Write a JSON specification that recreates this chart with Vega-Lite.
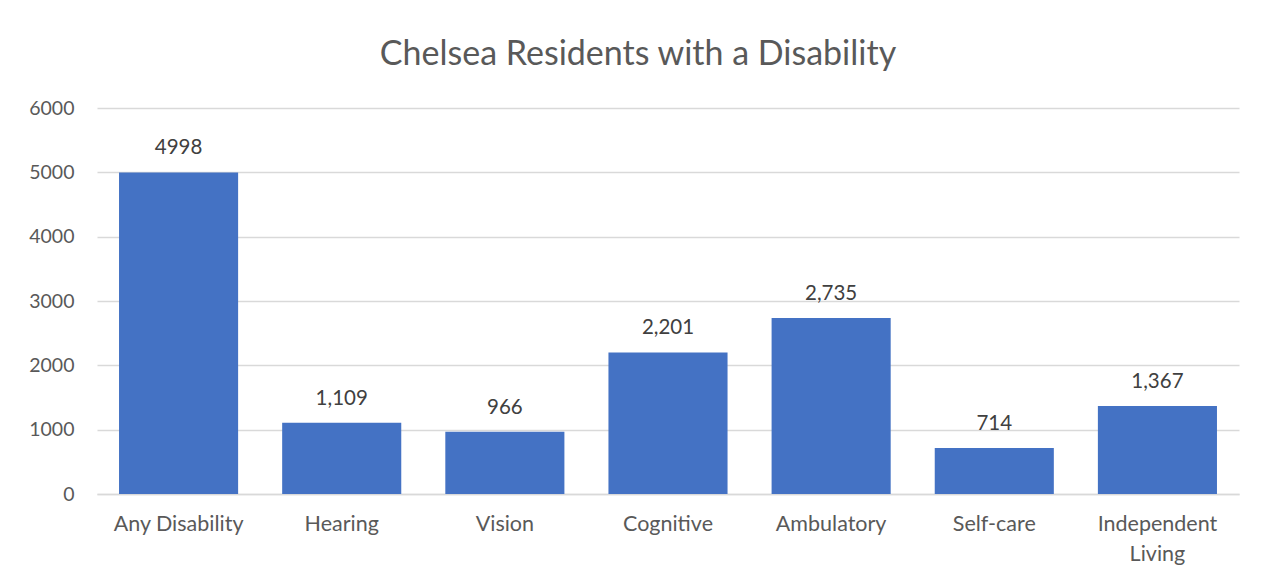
{
  "$schema": "https://vega.github.io/schema/vega-lite/v6.json",
  "autosize": {"type": "none"},
  "width": 1142,
  "height": 386,
  "padding": {"left": 97, "top": 108, "right": 27, "bottom": 86},
  "background": "white",
  "title": {
    "text": "Chelsea Residents with a Disability",
    "fontSize": 34,
    "font": "Lato",
    "fontWeight": "normal",
    "color": "#595959",
    "anchor": "middle",
    "offset": 26,
    "dx": -30
  },
  "data": {
    "values": [
      {"category": "Any Disability", "value": 4998, "label": "4998"},
      {"category": "Hearing", "value": 1109, "label": "1,109"},
      {"category": "Vision", "value": 966, "label": "966"},
      {"category": "Cognitive", "value": 2201, "label": "2,201"},
      {"category": "Ambulatory", "value": 2735, "label": "2,735"},
      {"category": "Self-care", "value": 714, "label": "714"},
      {"category": "Independent Living", "value": 1367, "label": "1,367"}
    ]
  },
  "encoding": {
    "x": {
      "field": "category",
      "type": "nominal",
      "sort": null,
      "scale": {"paddingInner": 0.27, "paddingOuter": 0.135},
      "axis": {
        "title": null,
        "labelAngle": 0,
        "labelFont": "Lato",
        "labelFontSize": 21.5,
        "labelColor": "#595959",
        "labelPadding": 19,
        "labelLineHeight": 30,
        "ticks": false,
        "domainColor": "#d9d9d9",
        "domainWidth": 1.5,
        "labelExpr": "datum.label == 'Independent Living' ? ['Independent', 'Living'] : datum.label"
      }
    },
    "y": {
      "field": "value",
      "type": "quantitative",
      "scale": {"domain": [0, 6000], "nice": false},
      "axis": {
        "title": null,
        "values": [0, 1000, 2000, 3000, 4000, 5000, 6000],
        "format": "d",
        "labelFont": "Lato",
        "labelFontSize": 19.5,
        "labelColor": "#595959",
        "labelPadding": 23,
        "ticks": false,
        "domain": false,
        "gridColor": "#d9d9d9",
        "gridWidth": 1.5
      }
    }
  },
  "layer": [
    {"mark": {"type": "bar", "color": "#4472C4"}},
    {
      "mark": {"type": "text", "dy": -14, "font": "Lato", "fontSize": 20.5, "color": "#404040", "baseline": "bottom"},
      "encoding": {"text": {"field": "label"}}
    }
  ],
  "config": {"view": {"stroke": null}}
}
